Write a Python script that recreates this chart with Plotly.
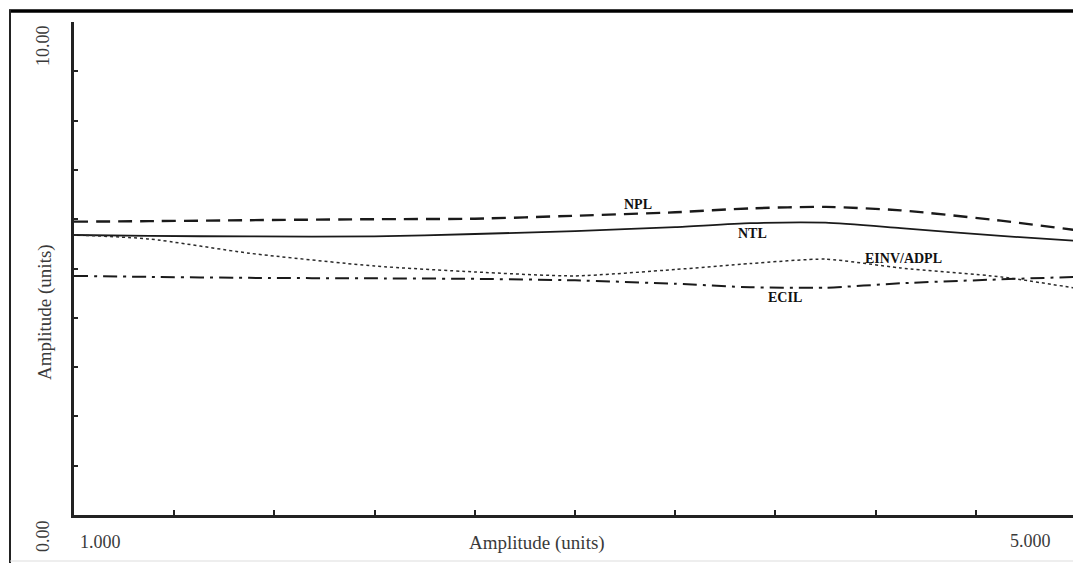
import plotly.graph_objects as go

x_vals = [1.0, 1.3, 1.7, 2.2, 2.6, 3.0, 3.4, 3.7, 4.0, 4.3, 4.7, 5.0]
npl = [5.95, 5.96, 5.98, 6.00, 6.01, 6.07, 6.14, 6.22, 6.25, 6.18, 5.97, 5.78]
ntl = [5.68, 5.66, 5.65, 5.65, 5.70, 5.76, 5.84, 5.92, 5.93, 5.82, 5.66, 5.56]
einv = [5.68, 5.60, 5.31, 5.05, 4.93, 4.85, 4.98, 5.10, 5.19, 5.01, 4.83, 4.60]
ecil = [4.85, 4.83, 4.81, 4.80, 4.79, 4.76, 4.69, 4.62, 4.61, 4.70, 4.78, 4.83]

y_ticks = list(range(0, 11))
x_ticks = [1.0 + 0.4 * i for i in range(11)]

series = [
    ("NPL", npl, dict(color="#1a1a1a", width=2.4, dash="14px,8px")),
    ("NTL", ntl, dict(color="#1a1a1a", width=1.8, dash="solid")),
    ("EINV/ADPL", einv, dict(color="#2a2a2a", width=1.5, dash="dot")),
    ("ECIL", ecil, dict(color="#1a1a1a", width=2.0, dash="14px,6px,3px,6px")),
]

labels = [
    ("NPL", 3.25, 6.30),
    ("NTL", 3.71, 5.72),
    ("EINV/ADPL", 4.31, 5.21),
    ("ECIL", 3.84, 4.42),
]

# page is offset by the browser's default 8px body margin
OFF = 8
PW, PH = 1002, 493          # plot area size (px)
PX0, PY1 = 74, 515          # plot area left / bottom on page (px)


def px(xp):
    return (xp - PX0) / PW


def py(yp):
    return (PY1 - yp) / PH


fig = go.Figure()
for name, vals, line in series:
    fig.add_trace(go.Scatter(x=x_vals, y=vals, mode="lines", name=name,
                             line=dict(shape="spline", smoothing=0.6, **line),
                             showlegend=False, hoverinfo="skip"))

for text, lx, ly in labels:
    fig.add_annotation(x=lx, y=ly, text="<b>" + text + "</b>", showarrow=False,
                       font=dict(family="Liberation Serif", size=14, color="#111"),
                       xanchor="center", yanchor="middle")

serif = "Liberation Serif"
txt_color = "#3a3a3a"
texts = [
    ("10.00", 43, 46, -90, 18),
    ("0.00", 43, 536, -90, 18),
    ("Amplitude (units)", 45, 312, -90, 19),
    ("1.000", 100, 542, 0, 18),
    ("5.000", 1030, 541, 0, 18),
    ("Amplitude (units)", 537, 543, 0, 19),
]
for t, xp, yp, ang, sz in texts:
    fig.add_annotation(xref="paper", yref="paper", x=px(xp), y=py(yp), text=t,
                       textangle=ang, showarrow=False,
                       xanchor="center", yanchor="middle",
                       font=dict(family=serif, size=sz, color=txt_color))

# outer frame
fig.add_shape(type="line", xref="paper", yref="paper",
              x0=px(9), x1=px(1081), y0=py(11), y1=py(11),
              line=dict(color="black", width=3.5))
fig.add_shape(type="line", xref="paper", yref="paper",
              x0=px(10), x1=px(10), y0=py(10), y1=py(563),
              line=dict(color="#222", width=2))
fig.add_shape(type="line", xref="paper", yref="paper",
              x0=px(10), x1=px(1081), y0=py(561), y1=py(561),
              line=dict(color="#dddddd", width=1))

fig.update_layout(
    width=1081 - OFF, height=563 - OFF,
    margin=dict(l=PX0 - OFF, r=(1081 - OFF) - (PX0 - OFF) - PW,
                t=(PY1 - PH) - OFF, b=(563 - OFF) - (PY1 - OFF)),
    paper_bgcolor="white", plot_bgcolor="white",
    xaxis=dict(range=[1.0, 5.0], tickvals=x_ticks, showticklabels=False,
               ticks="inside", ticklen=5, tickwidth=2, tickcolor="#222",
               showline=True, linecolor="#222", linewidth=2.5,
               showgrid=False, zeroline=False, fixedrange=True),
    yaxis=dict(range=[0, 10], tickvals=y_ticks, showticklabels=False,
               ticks="inside", ticklen=4, tickwidth=2, tickcolor="#222",
               showline=True, linecolor="#222", linewidth=2.5,
               showgrid=False, zeroline=False, fixedrange=True),
)

fig.write_html("out.html")
